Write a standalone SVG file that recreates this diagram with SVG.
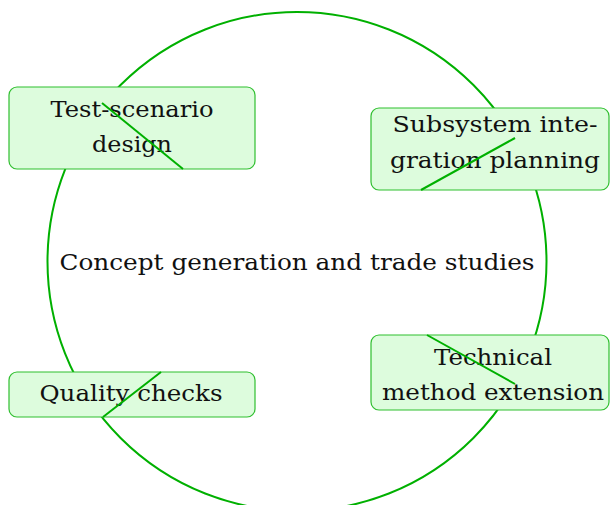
<svg xmlns="http://www.w3.org/2000/svg" width="610" height="505" viewBox="0 0 610 505">
<style>
.ring{fill:none;stroke:#00b000;stroke-width:2}
.box{fill:#ddfcdd;stroke:#2fbf2f;stroke-width:1.2}
.lnk{stroke:#00b000;stroke-width:2;fill:none}
text{font-family:"DejaVu Serif","Liberation Serif",serif;font-size:23px;fill:#111111;text-anchor:middle}
</style>
<rect width="610" height="505" fill="#ffffff"/>
<g id="cycle">
<circle class="ring" cx="297" cy="261.5" r="249.5"/>
</g>
<g id="center-label">
<text x="297" y="270" textLength="475" lengthAdjust="spacingAndGlyphs">Concept generation and trade studies</text>
</g>
<g id="node-test">
<rect class="box" x="9" y="87" width="246" height="82" rx="8"/>
<text x="132" y="117" textLength="163" lengthAdjust="spacingAndGlyphs">Test-scenario</text>
<text x="132" y="152" textLength="80" lengthAdjust="spacingAndGlyphs">design</text>
</g>
<g id="node-subsystem">
<rect class="box" x="371" y="108" width="238" height="82" rx="8"/>
<text x="495" y="132" textLength="205" lengthAdjust="spacingAndGlyphs">Subsystem inte-</text>
<text x="495" y="168" textLength="210" lengthAdjust="spacingAndGlyphs">gration planning</text>
</g>
<g id="node-technical">
<rect class="box" x="371" y="335" width="238" height="75" rx="8"/>
<text x="493" y="365" textLength="118" lengthAdjust="spacingAndGlyphs">Technical</text>
<text x="493" y="400" textLength="222" lengthAdjust="spacingAndGlyphs">method extension</text>
</g>
<g id="node-quality">
<rect class="box" x="9" y="372" width="246" height="45" rx="8"/>
<text x="131" y="401" textLength="183" lengthAdjust="spacingAndGlyphs">Quality checks</text>
</g>
<g id="connectors">
<line class="lnk" x1="102" y1="103" x2="183" y2="169"/>
<line class="lnk" x1="421" y1="190" x2="515" y2="138"/>
<line class="lnk" x1="427" y1="335" x2="515" y2="384"/>
<line class="lnk" x1="161" y1="372" x2="103" y2="417"/>
</g>
</svg>
